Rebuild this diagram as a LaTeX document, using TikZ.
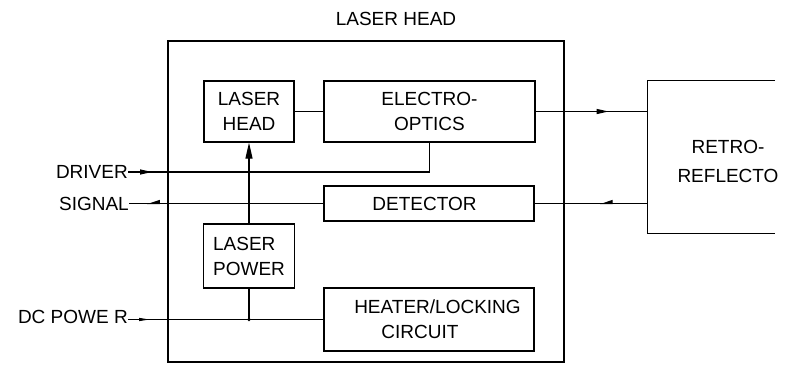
\documentclass[tikz,border=0pt]{standalone}
\usepackage{fontspec}
\setmainfont{Liberation Sans}
\usetikzlibrary{arrows.meta,decorations.markings}
\tikzset{
  box/.style={draw, line width=1.2pt, inner sep=0pt, align=center},
  wire/.style={line width=1.2pt},
  lbl/.style={inner sep=0pt, align=center},
  tipat/.style 2 args={postaction={decorate},
    decoration={markings, mark=at position #1 with {\arrow{#2}}}},
  rtip/.style={tipat={#1}{Triangle[length=12pt,width=5pt]}},
  htip/.style={tipat={#1}{Triangle[length=11pt,width=7pt,harpoon,swap]}},
  dctip/.style={tipat={#1}{Triangle[length=11pt,width=3pt]}},
}
\begin{document}
\begin{tikzpicture}[x=1pt,y=-1pt,font=\fontsize{19}{25}\selectfont]
\useasboundingbox (0,0) rectangle (791,372);
% outer box and title
\node[box, minimum width=396pt, minimum height=321pt] (outer) at (366,201.5) {};
\node[lbl] (title) at (396,19) {LASER HEAD};
% inner blocks
\node[box, minimum width=90pt, minimum height=61pt] (lh) at (249,111.5) {LASER\\HEAD};
\node[box, minimum width=211pt, minimum height=61pt] (eo) at (429.5,111.5) {ELECTRO-\\OPTICS};
\node[box, minimum width=210pt, minimum height=35pt] (det) at (429,203.5) {DETECTOR\hspace*{9pt}};
\node[box, align=left, minimum width=91pt, minimum height=64pt] (lp) at (249,256) {LASER\\POWER};
\node[box, minimum width=210pt, minimum height=63pt] (ht) at (429,319.5) {\hspace*{17pt}HEATER/LOCKING\\CIRCUIT\hspace*{18pt}};
% retro-reflector (cut at the right edge)
\node[inner sep=0pt, minimum width=127pt, minimum height=152pt] (retro) at (711.5,157) {};
\node[lbl] (rtext) at (728,161) {RETRO-\\[4pt]REFLECTO};
\draw[wire] (retro.north east) -- (retro.north west) -- (retro.south west) -- (retro.south east);
% external labels
\node[lbl, anchor=east] (driver) at (128,172) {DRIVER};
\node[lbl, anchor=east] (signal) at (129,204) {SIGNAL};
\node[lbl, anchor=east] (dc) at (128,317) {DC POWE R};
% connectors
\draw[wire] (lh.east) -- (eo.west);
\draw[wire, rtip=73pt] (eo.east) -- (eo.east -| retro.west);
\draw[wire, htip=48pt] (retro.west |- det.east) -- (det.east);
\draw[wire, rtip=24pt] (driver.east) -| (eo.south);
\draw[wire, htip=-18pt] (det.west) -- (det.west -| signal.east);
\draw[wire, -{Triangle[length=16pt,width=7pt]}] (lp.north) -- (lh.south);
\coordinate (j) at (lp.south |- ht.west);
\draw[wire] (lp.south) -- (j);
\fill (j) circle (1.8pt);
\draw[wire, dctip=22pt] (dc.east |- ht.west) -- (ht.west);
\end{tikzpicture}
\end{document}
